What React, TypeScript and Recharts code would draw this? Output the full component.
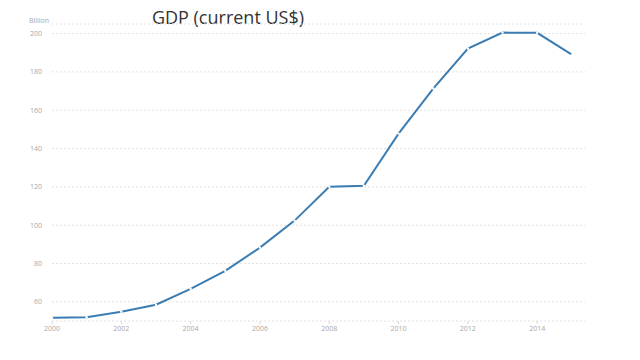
import { LineChart, Line, XAxis, YAxis, CartesianGrid } from "recharts";

const years = [2000, 2001, 2002, 2003, 2004, 2005, 2006, 2007, 2008, 2009, 2010, 2011, 2012, 2013, 2014, 2015];
const gdpBillion = [51.7, 52.0, 54.8, 58.5, 66.8, 76.2, 88.3, 102.4, 120.1, 120.6, 147.8, 171.3, 192.2, 200.5, 200.4, 189.0];
const xTicks = [2000, 2002, 2004, 2006, 2008, 2010, 2012, 2014];
const yTicks = [60, 80, 100, 120, 140, 160, 180, 200];

const data = years.map((year, i) => ({ year, gdp: gdpBillion[i] }));

const tickStyle = { fontSize: 7, fill: "#a8a8a8", fontFamily: "'Open Sans', sans-serif" };

export default function App() {
  return (
    <div style={{ position: "absolute", left: 0, top: 0, width: 640, height: 360, background: "#fff" }}>
      <div
        style={{
          position: "absolute",
          left: 0,
          width: 456,
          top: 5,
          textAlign: "center",
          fontFamily: "'Open Sans', sans-serif",
          fontSize: 18,
          color: "#333",
        }}
      >
        GDP (current US$)
      </div>
      <div
        style={{
          position: "absolute",
          left: 29,
          top: 16,
          fontFamily: "'Open Sans', sans-serif",
          fontSize: 7,
          color: "#a8a8a8",
        }}
      >
        Billion
      </div>
      <LineChart width={640} height={360} data={data} margin={{ top: 24, right: 55, bottom: 0, left: 0 }}>
        <CartesianGrid vertical={false} stroke="#e2e2e2" strokeDasharray="2 2" />
        <XAxis
          dataKey="year"
          type="number"
          domain={[2000, 2015.38]}
          ticks={xTicks}
          axisLine={false}
          tickLine={{ stroke: "#d8d8d8" }}
          tickSize={3}
          height={39}
          tick={tickStyle}
        />
        <YAxis
          type="number"
          domain={[50, 205]}
          ticks={yTicks}
          axisLine={false}
          tickLine={false}
          width={52}
          tickMargin={4}
          tick={tickStyle}
        />
        <Line
          type="linear"
          dataKey="gdp"
          stroke="#3b7db3"
          strokeWidth={2}
          dot={{ r: 1.2, fill: "#ffffff", stroke: "none" }}
          isAnimationActive={false}
        />
      </LineChart>
    </div>
  );
}
